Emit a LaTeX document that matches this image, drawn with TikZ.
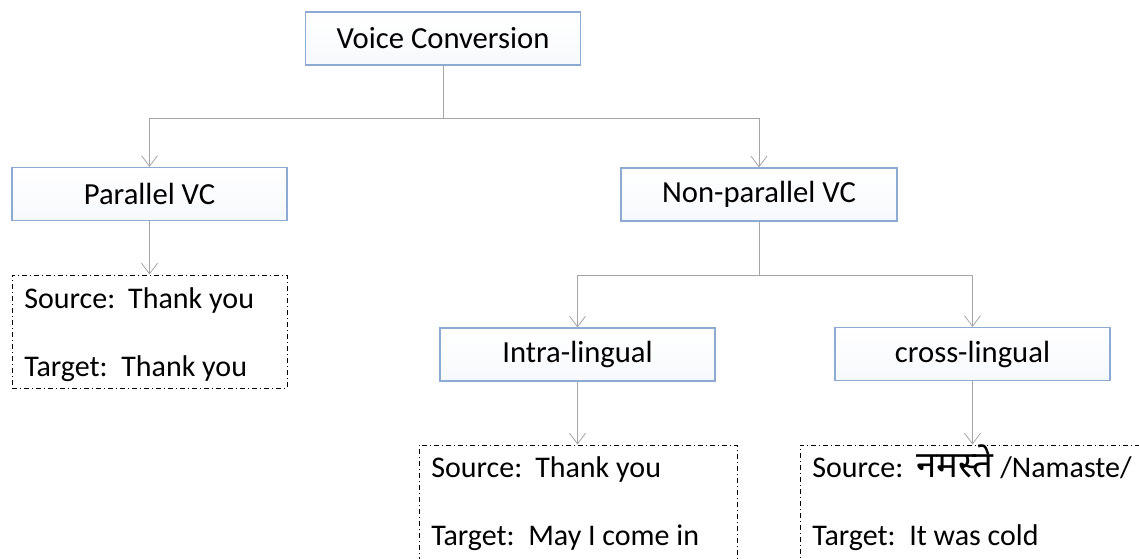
\documentclass[tikz,border=0pt]{standalone}
\usepackage{fontspec}
\setmainfont{Carlito}
\newfontfamily\deva[Script=Devanagari,Scale=1.22]{Noto Sans}
\usetikzlibrary{arrows.meta}
\definecolor{boxline}{RGB}{140,170,210}
\definecolor{conncol}{RGB}{165,165,165}
\newcommand{\srclab}{\makebox[78pt][l]{Source:}}
\newcommand{\tgtlab}{\makebox[72.75pt][l]{Target:}}
\tikzset{
  catbox/.style={draw=boxline, line width=0.8pt, top color=white, bottom color={rgb,255:red,246;green,249;blue,252}, minimum height=53*0.75pt, inner sep=0pt, font=\fontsize{23}{27}\selectfont},
  conn/.style={draw=conncol, line width=0.7pt},
  arr/.style={conn, -{Straight Barb[length=8pt,width=12pt,line width=0.6pt]}},
  exbox/.style={draw=black, line width=0.7pt, dash pattern=on 4pt off 2pt on 1pt off 2pt, inner sep=0pt},
  extext/.style={anchor=base west, inner sep=0pt, font=\fontsize{22.5}{26}\selectfont}
}
\begin{document}
\begin{tikzpicture}[x=0.75pt,y=-0.75pt]
\useasboundingbox (0,0) rectangle (1139,558);
\clip (0,0) rectangle (1139,558);
% category boxes
\node[catbox, minimum width=275*0.75pt] (vc) at (443,38.5) {Voice Conversion};
\node[catbox, minimum width=275*0.75pt] (pvc) at (149.5,194) {Parallel VC};
\node[catbox, minimum width=276*0.75pt] (npvc) at (759,194.5) {Non-parallel VC};
\node[catbox, minimum width=275*0.75pt] (intra) at (577.5,354.5) {Intra-lingual};
\node[catbox, minimum width=275*0.75pt] (cross) at (972.5,354) {cross-lingual};
% example boxes
\node[exbox, minimum width=275*0.75pt, minimum height=113*0.75pt] (ex1) at (149.5,331.5) {};
\node[exbox, minimum width=318*0.75pt, minimum height=140*0.75pt] (ex2) at (578,515) {};
\node[exbox, minimum width=370*0.75pt, minimum height=140*0.75pt] (ex3) at (985,515) {};
% example texts
\node[extext] (s1) at (24,308) {\srclab Thank you};
\node[extext] (t1) at (24,376) {\tgtlab Thank you};
\node[extext] (s2) at (431,477) {\srclab Thank you};
\node[extext] (t2) at (431,545) {\tgtlab May I come in};
\node[extext] (s3) at (812,477) {\srclab{\deva नमस्ते} /Namaste/};
\node[extext] (t3) at (812,545) {\tgtlab It was cold};
% connectors
\coordinate (j1) at (443,118);
\coordinate (j2) at (759,275);
\draw[conn] (vc.south) -- (j1);
\draw[arr] (j1) -| (pvc.north);
\draw[arr] (j1) -| (npvc.north);
\draw[conn] (npvc.south) -- (j2);
\draw[arr] (j2) -| (intra.north);
\draw[arr] (j2) -| (cross.north);
\draw[arr] (pvc.south) -- (pvc.south |- ex1.north);
\draw[arr] (intra.south) -- (intra.south |- ex2.north);
\draw[arr] (cross.south) -- (cross.south |- ex3.north);
\end{tikzpicture}
\end{document}
